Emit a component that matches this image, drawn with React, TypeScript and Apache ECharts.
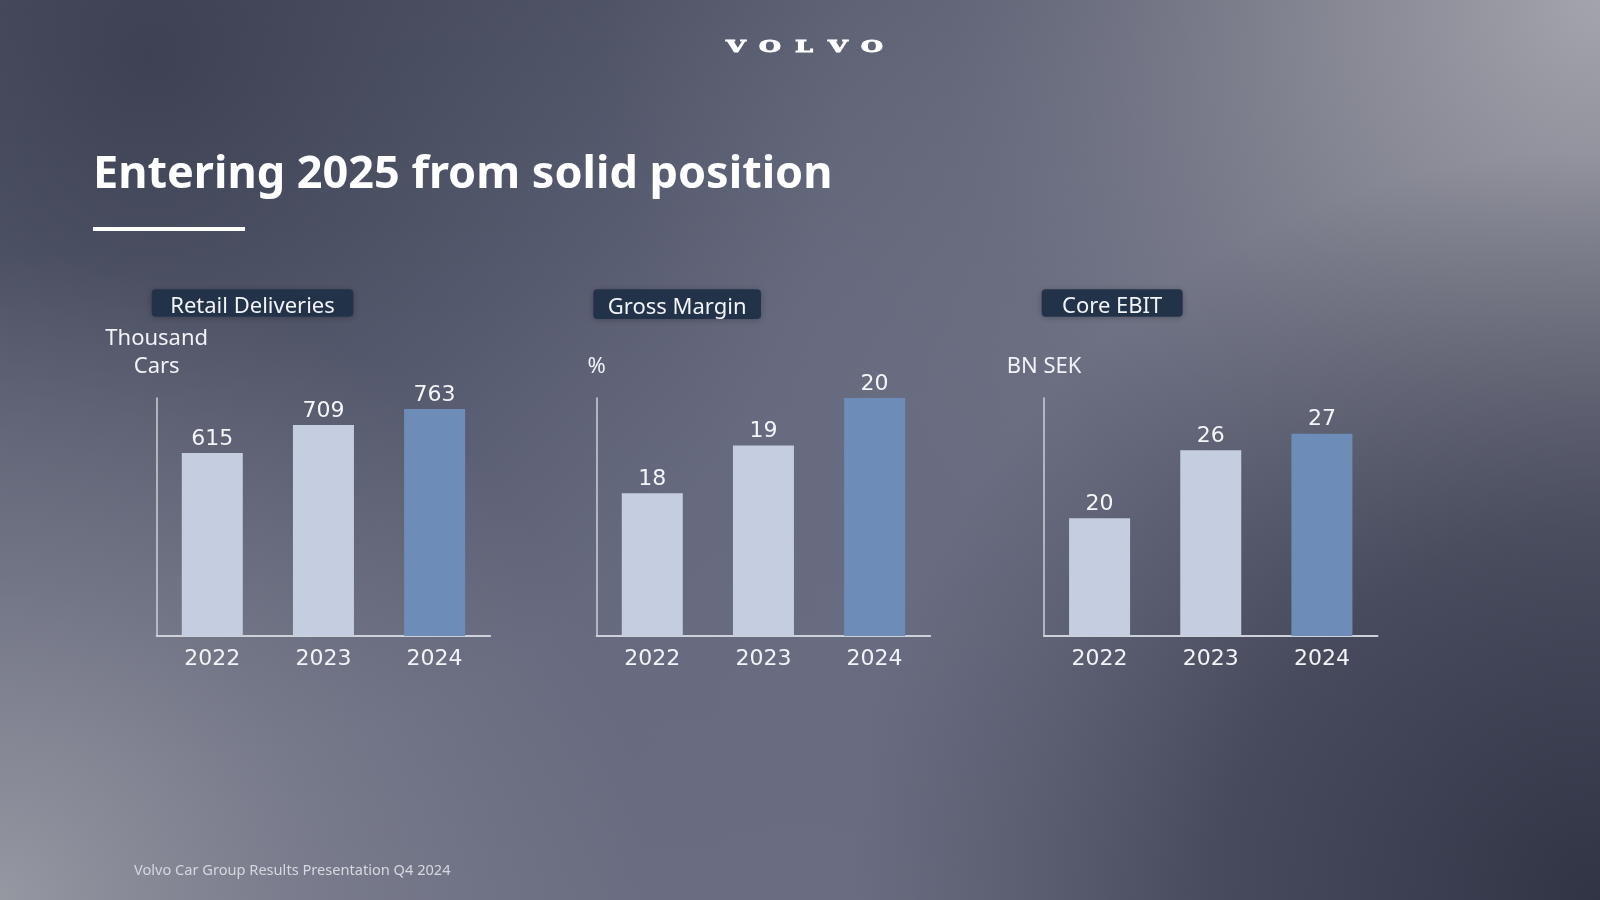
import React, { useEffect, useRef } from "react";
import * as echarts from "echarts";

const categories = ["2022", "2023", "2024"];
const deliveries = [615, 709, 763];
const grossMargin = [18, 19, 20];
const coreEbit = [19.9, 25.6, 27.0];
const panelTitles = ["Retail Deliveries", "Gross Margin", "Core EBIT"];
const unitLabels = ["Thousand\nCars", "%", "BN SEK"];
const axisMins = [0, 15, 10];
const axisMaxs = [800, 20, 30];
const titleText = "Entering 2025 from solid position";
const footerText = "Volvo Car Group Results Presentation Q4 2024";
const logoText = "VOLVO";

const LIGHT = "#c4cee0";
const HIGHLIGHT = "#6e8cb8";
const NUM_FONT = "'DejaVu Sans', sans-serif";
const TXT_FONT = "'Noto Sans', sans-serif";

export default function App() {
  const ref = useRef<HTMLDivElement>(null);

  useEffect(() => {
    if (!ref.current) return;
    const chart = echarts.init(ref.current, null, { renderer: "svg" });
    const seriesData = [deliveries, grossMargin, coreEbit];
    const gridLefts = [156.7, 596.7, 1044];
    const tagBoxes = [
      { x: 151.7, y: 289.3, w: 201.6, h: 27.4 },
      { x: 593.3, y: 289.3, w: 167.7, h: 29.7 },
      { x: 1041.7, y: 289.3, w: 141, h: 27.4 },
    ];

    const bgRect = (fill: any) => ({
      type: "rect",
      silent: true,
      z: -10,
      shape: { x: 0, y: 0, width: 1600, height: 900 },
      style: { fill },
    });
    const radial = (x: number, y: number, r: number, stops: [number, string][]) =>
      new echarts.graphic.RadialGradient(
        x,
        y,
        r,
        stops.map(([offset, color]) => ({ offset, color })),
        true
      );

    const graphic: any[] = [
      bgRect("#64687d"),
      bgRect(
        new echarts.graphic.LinearGradient(
          0, 0, 0, 1,
          [
            { offset: 0, color: "rgba(70,74,92,0.45)" },
            { offset: 0.5, color: "rgba(98,102,123,0)" },
            { offset: 1, color: "rgba(120,122,140,0.25)" },
          ]
        )
      ),
      bgRect(radial(150, 60, 700, [[0, "rgba(54,58,76,0.8)"], [0.5, "rgba(58,62,80,0.4)"], [1, "rgba(60,64,82,0)"]])),
      bgRect(radial(1600, 0, 1000, [[0, "rgba(168,168,175,0.95)"], [0.3, "rgba(145,146,156,0.75)"], [0.65, "rgba(125,127,142,0.3)"], [1, "rgba(120,122,138,0)"]])),
      bgRect(radial(0, 900, 650, [[0, "rgba(152,154,163,0.95)"], [0.5, "rgba(135,137,150,0.5)"], [1, "rgba(130,132,145,0)"]])),
      bgRect(radial(1600, 900, 750, [[0, "rgba(44,47,64,0.92)"], [0.5, "rgba(48,51,68,0.6)"], [1, "rgba(50,53,70,0)"]])),
      bgRect(radial(800, 650, 450, [[0, "rgba(112,115,134,0.3)"], [1, "rgba(112,115,134,0)"]])),
      {
        type: "text",
        x: 93,
        y: 170,
        z: 10,
        style: {
          text: titleText,
          fill: "#ffffff",
          font: `bold 45px ${TXT_FONT}`,
          verticalAlign: "middle",
          align: "left",
        },
      },
      {
        type: "rect",
        z: 10,
        shape: { x: 93, y: 227, width: 152, height: 4 },
        style: { fill: "#ffffff" },
      },
      {
        type: "text",
        x: 134,
        y: 869,
        z: 10,
        style: {
          text: footerText,
          fill: "#d6d8e0",
          font: `14.6px ${TXT_FONT}`,
          verticalAlign: "middle",
          align: "left",
        },
      },
    ];

    logoText.split("").forEach((ch, i) => {
      graphic.push({
        type: "text",
        x: 736 + i * 34,
        y: 46,
        z: 10,
        scaleX: 1.6,
        style: {
          text: ch,
          fill: "#ffffff",
          fontFamily: "'DejaVu Serif', serif",
          fontWeight: "bold",
          fontSize: 16,
          stroke: "#ffffff",
          lineWidth: 0.8,
          align: "center",
          verticalAlign: "middle",
        },
      });
    });

    panelTitles.forEach((t, i) => {
      const b = tagBoxes[i];
      graphic.push({
        type: "rect",
        z: 10,
        shape: { x: b.x, y: b.y, width: b.w, height: b.h, r: 4 },
        style: {
          fill: "#243049",
          shadowBlur: 6,
          shadowColor: "rgba(0,0,0,0.25)",
          shadowOffsetY: 1,
        },
      });
      graphic.push({
        type: "text",
        z: 11,
        x: b.x + b.w / 2,
        y: b.y + b.h / 2 + 1,
        style: {
          text: t,
          fill: "#f2f4f8",
          font: `22px ${TXT_FONT}`,
          align: "center",
          verticalAlign: "middle",
        },
      });
    });

    const option: any = {
      animation: false,
      backgroundColor: "transparent",
      graphic,
      grid: gridLefts.map((left) => ({
        left,
        top: 398,
        width: 333.5,
        height: 238,
        containLabel: false,
      })),
      xAxis: gridLefts.map((_, i) => ({
        type: "category",
        gridIndex: i,
        data: categories,
        axisLine: { show: true, lineStyle: { color: "#cdd1da", width: 2 } },
        axisTick: { show: false },
        axisLabel: {
          color: "#f2f3f7",
          fontFamily: NUM_FONT,
          fontSize: 22,
          margin: 10,
        },
      })),
      yAxis: gridLefts.map((_, i) => ({
        type: "value",
        gridIndex: i,
        min: axisMins[i],
        max: axisMaxs[i],
        name: unitLabels[i],
        nameLocation: "end",
        nameGap: 20,
        nameTextStyle: {
          color: "#f2f3f7",
          fontFamily: TXT_FONT,
          fontSize: 22,
          lineHeight: 28,
          align: "center",
          verticalAlign: "bottom",
        },
        axisLine: { show: true, lineStyle: { color: "#cdd1da", width: 1.5 } },
        axisTick: { show: false },
        axisLabel: { show: false },
        splitLine: { show: false },
      })),
      series: seriesData.map((vals, i) => ({
        type: "bar",
        xAxisIndex: i,
        yAxisIndex: i,
        barWidth: 61,
        data: vals.map((v, j) => ({
          value: v,
          itemStyle: { color: j === vals.length - 1 ? HIGHLIGHT : LIGHT },
        })),
        label: {
          show: true,
          position: "top",
          distance: 5,
          color: "#f4f5f8",
          fontFamily: NUM_FONT,
          fontSize: 22,
          formatter: (p: any) => String(Math.round(p.value)),
        },
      })),
    };

    chart.setOption(option);
    return () => chart.dispose();
  }, []);

  return (
    <div
      ref={ref}
      style={{ position: "fixed", left: 0, top: 0, width: 1600, height: 900 }}
    />
  );
}
